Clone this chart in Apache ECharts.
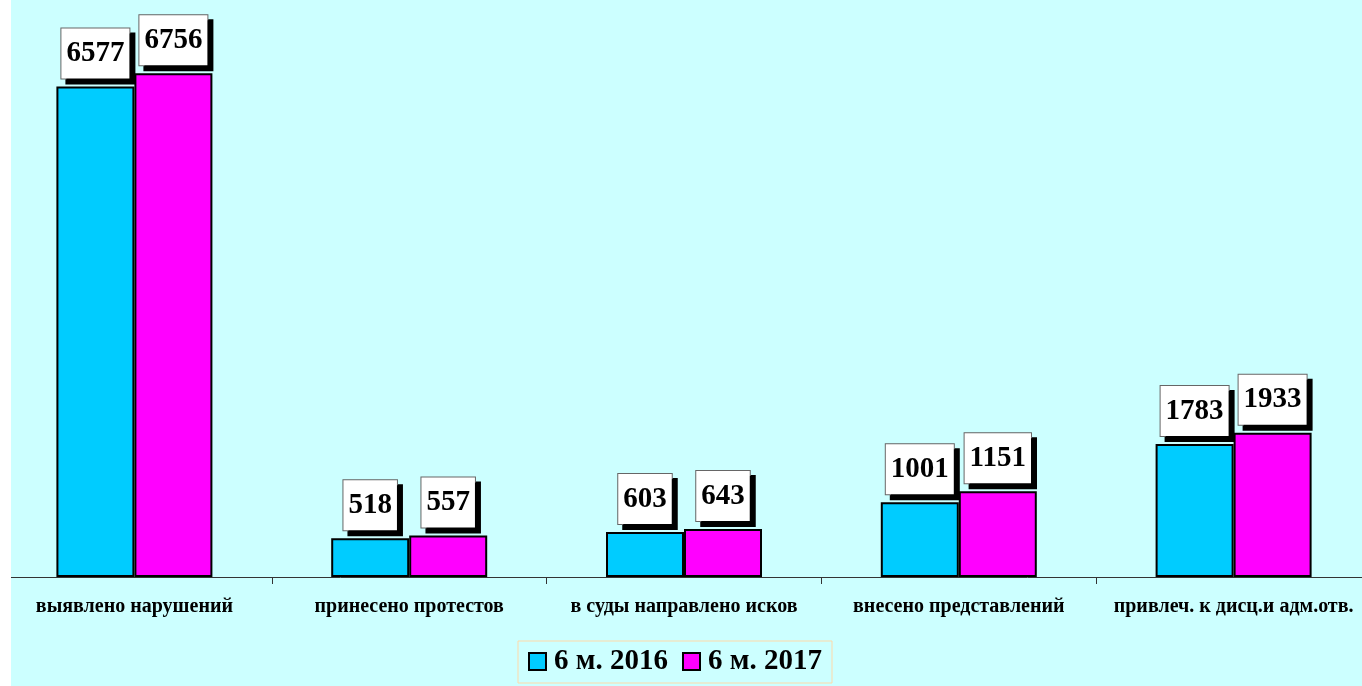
<!DOCTYPE html>
<html>
<head>
<meta charset="utf-8">
<script src="https://cdn.jsdelivr.net/npm/echarts@6/dist/echarts.min.js"></script>
<style>
  html, body { margin: 0; padding: 0; background: #ffffff; overflow: hidden; }
  #chart { position: absolute; left: -3px; top: 0; width: 1374px; height: 686px; }
  #edge { position: absolute; left: 0; top: 0; width: 11px; height: 686px; background: #ffffff; z-index: 5; }
</style>
</head>
<body>
<div id="chart"></div>
<div id="edge"></div>
<script>
const categories = [
  "выявлено нарушений",
  "принесено протестов",
  "в суды направлено исков",
  "внесено представлений",
  "привлеч. к дисц.и адм.отв."
];
const seriesNames = ["6 м. 2016", "6 м. 2017"];
const values2016 = [6577, 518, 603, 1001, 1783];
const values2017 = [6756, 557, 643, 1151, 1933];

const chart = echarts.init(document.getElementById("chart"));

const labelStyle = {
  show: true,
  position: "top",
  distance: 8,
  color: "#000",
  fontFamily: "Liberation Serif",
  fontWeight: "bold",
  fontSize: 29,
  lineHeight: 30,
  padding: [10, 5, 10, 5],
  backgroundColor: "#ffffff",
  borderColor: "#666666",
  borderWidth: 1,
  shadowColor: "#000000",
  shadowBlur: 0,
  shadowOffsetX: 5,
  shadowOffsetY: 5
};

function barSeries(name, data, color) {
  return {
    name: name,
    type: "bar",
    data: data,
    barWidth: 78,
    barGap: "0%",
    itemStyle: { color: color, borderColor: "#000", borderWidth: 2 },
    label: labelStyle,
    emphasis: { disabled: true }
  };
}

chart.setOption({
  backgroundColor: "#ccffff",
  animation: false,
  grid: { left: 0, right: 0, top: 55, bottom: 109 },
  legend: {
    left: 521,
    top: 641,
    padding: [6, 10, 7, 10],
    itemWidth: 17,
    itemHeight: 17,
    itemGap: 14,
    borderColor: "#ffd9a8",
    borderWidth: 1,
    icon: "rect",
    itemStyle: { borderColor: "#000", borderWidth: 2 },
    textStyle: {
      color: "#000",
      fontFamily: "Liberation Serif",
      fontWeight: "bold",
      fontSize: 29,
      padding: [0, 0, 0, 3]
    },
    data: seriesNames
  },
  xAxis: {
    type: "category",
    data: categories,
    boundaryGap: true,
    axisLine: { show: true, lineStyle: { color: "#333", width: 1 } },
    axisTick: { show: true, interval: 0, inside: false, length: 7, lineStyle: { color: "#333", width: 1 } },
    axisLabel: {
      color: "#000",
      fontFamily: "Liberation Serif",
      fontWeight: "bold",
      fontSize: 20,
      margin: 20,
      interval: 0
    }
  },
  yAxis: {
    type: "value",
    min: 0,
    max: 7000,
    show: false
  },
  series: [
    barSeries(seriesNames[0], values2016, "#00ccff"),
    barSeries(seriesNames[1], values2017, "#ff00ff")
  ]
});
</script>
</body>
</html>
